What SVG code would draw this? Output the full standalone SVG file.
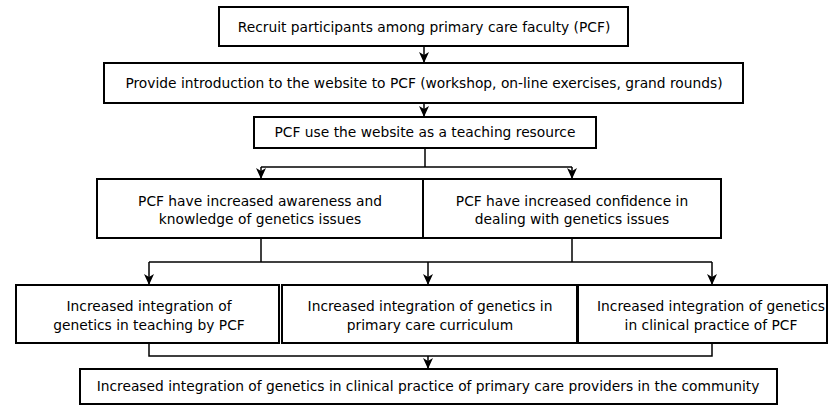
<svg xmlns="http://www.w3.org/2000/svg" width="830" height="408" viewBox="0 0 830 408">
<defs>
<style>
.box{fill:#fff;stroke:#000;stroke-width:2}
.t{font-family:"DejaVu Sans",sans-serif;font-size:13.8px;fill:#000;text-anchor:middle}
.c{fill:none;stroke:#000;stroke-width:1.5}
</style>
<marker id="ah" markerWidth="11" markerHeight="11" viewBox="0 0 11 11" refX="11" refY="5.5" orient="auto" markerUnits="userSpaceOnUse">
<path d="M0,0.5 L11,5.5 L0,10.5 L3,5.5 Z" fill="#000"/>
</marker>
</defs>
<g id="connectors">
<path class="c" d="M424,46 V63" marker-end="url(#ah)"/>
<path class="c" d="M424,103 V117" marker-end="url(#ah)"/>
<path class="c" d="M425,148 V167"/>
<path class="c" d="M261,167 H572"/>
<path class="c" d="M261,167 V179" marker-end="url(#ah)"/>
<path class="c" d="M572,167 V179" marker-end="url(#ah)"/>
<path class="c" d="M261,238 V262"/>
<path class="c" d="M572,238 V262"/>
<path class="c" d="M149,262 H712"/>
<path class="c" d="M149,262 V285" marker-end="url(#ah)"/>
<path class="c" d="M428,262 V285" marker-end="url(#ah)"/>
<path class="c" d="M712,262 V285" marker-end="url(#ah)"/>
<path class="c" d="M149,343 V356 H712 V343"/>
<path class="c" d="M428,356 V369" marker-end="url(#ah)"/>
</g>
<g id="n1">
<rect class="box" x="219" y="7" width="409" height="39"/>
<text class="t" x="424" y="32">Recruit participants among primary care faculty (PCF)</text>
</g>
<g id="n2">
<rect class="box" x="104" y="63" width="639" height="40"/>
<text class="t" x="424" y="88">Provide introduction to the website to PCF (workshop, on-line exercises, grand rounds)</text>
</g>
<g id="n3">
<rect class="box" x="254" y="117" width="342" height="31"/>
<text class="t" x="425" y="137">PCF use the website as a teaching resource</text>
</g>
<g id="n4">
<rect class="box" x="97" y="179" width="326" height="59"/>
<text class="t" x="260" y="206">PCF have increased awareness and</text>
<text class="t" x="260" y="224">knowledge of genetics issues</text>
</g>
<g id="n5">
<rect class="box" x="423" y="179" width="298" height="59"/>
<text class="t" x="572" y="206">PCF have increased confidence in</text>
<text class="t" x="572" y="224">dealing with genetics issues</text>
</g>
<g id="n6">
<rect class="box" x="16" y="285" width="263" height="58"/>
<text class="t" x="149" y="311">Increased integration of</text>
<text class="t" x="149" y="330">genetics in teaching by PCF</text>
</g>
<g id="n7">
<rect class="box" x="282" y="285" width="295" height="58"/>
<text class="t" x="430" y="311">Increased integration of genetics in</text>
<text class="t" x="430" y="330">primary care curriculum</text>
</g>
<g id="n8">
<rect class="box" x="578" y="285" width="249" height="58"/>
<text class="t" x="711" y="311">Increased integration of genetics</text>
<text class="t" x="711" y="330">in clinical practice of PCF</text>
</g>
<g id="n9">
<rect class="box" x="80" y="369" width="697" height="35"/>
<text class="t" x="428" y="391">Increased integration of genetics in clinical practice of primary care providers in the community</text>
</g>
</svg>
